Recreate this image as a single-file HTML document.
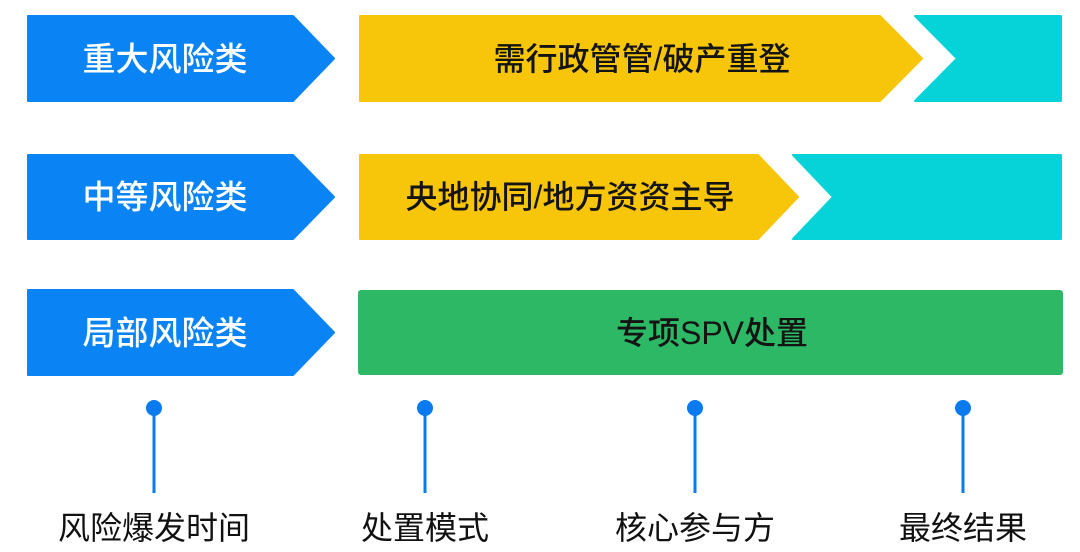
<!DOCTYPE html>
<html>
<head>
<meta charset="utf-8">
<style>
  html, body { margin:0; padding:0; background:#ffffff; }
  body { width:1080px; height:552px; overflow:hidden; }
  svg { display:block; }
  text { font-family: "Liberation Sans", "Noto Sans CJK SC", "WenQuanYi Zen Hei", sans-serif; }
</style>
</head>
<body>
<svg width="1080" height="552" viewBox="0 0 1080 552" xmlns="http://www.w3.org/2000/svg">
  <!-- Row 1 -->
  <polygon points="28,16 293,16 334,58.5 293,101 28,101" fill="#0A84F4" stroke="#0A84F4" stroke-width="2" stroke-linejoin="round"/>
  <polygon points="360,16 880,16 922,58.5 880,101 360,101" fill="#F7C60B" stroke="#F7C60B" stroke-width="2" stroke-linejoin="round"/>
  <polygon points="915,16 1061,16 1061,101 915,101 957,58.5" fill="#06D3D8" stroke="#06D3D8" stroke-width="2" stroke-linejoin="round"/>
  <text x="165" y="59" fill="#ffffff" font-size="33" text-anchor="middle" dominant-baseline="central" font-weight="500">重大风险类</text>
  <text x="642" y="59" fill="#141414" font-size="32" text-anchor="middle" dominant-baseline="central" font-weight="500">需行政管管/破产重登</text>

  <!-- Row 2 -->
  <polygon points="28,155 293,155 334,197 293,239 28,239" fill="#0A84F4" stroke="#0A84F4" stroke-width="2" stroke-linejoin="round"/>
  <polygon points="360,155 758,155 798,197 758,239 360,239" fill="#F7C60B" stroke="#F7C60B" stroke-width="2" stroke-linejoin="round"/>
  <polygon points="793,155 1061,155 1061,239 793,239 833,197" fill="#06D3D8" stroke="#06D3D8" stroke-width="2" stroke-linejoin="round"/>
  <text x="165" y="197" fill="#ffffff" font-size="33" text-anchor="middle" dominant-baseline="central" font-weight="500">中等风险类</text>
  <text x="570" y="197" fill="#141414" font-size="32" text-anchor="middle" dominant-baseline="central" font-weight="500">央地协同/地方资资主导</text>

  <!-- Row 3 -->
  <polygon points="28,290 293,290 334,332.5 293,375 28,375" fill="#0A84F4" stroke="#0A84F4" stroke-width="2" stroke-linejoin="round"/>
  <rect x="358" y="290" width="705" height="85" rx="3" fill="#2DB866"/>
  <text x="165" y="333" fill="#ffffff" font-size="33" text-anchor="middle" dominant-baseline="central" font-weight="500">局部风险类</text>
  <text x="712" y="333" fill="#141414" font-size="32" text-anchor="middle" dominant-baseline="central" font-weight="500">专项SPV处置</text>

  <!-- Bottom markers -->
  <g fill="#0A7BEF" stroke="#0A7BEF">
    <line x1="154" y1="408" x2="154" y2="493" stroke-width="3"/>
    <circle cx="154" cy="408" r="8" stroke="none"/>
    <line x1="425" y1="408" x2="425" y2="493" stroke-width="3"/>
    <circle cx="425" cy="408" r="8" stroke="none"/>
    <line x1="695" y1="408" x2="695" y2="493" stroke-width="3"/>
    <circle cx="695" cy="408" r="8" stroke="none"/>
    <line x1="963" y1="408" x2="963" y2="493" stroke-width="3"/>
    <circle cx="963" cy="408" r="8" stroke="none"/>
  </g>

  <text x="154" y="528" fill="#111111" font-size="32" text-anchor="middle" dominant-baseline="central">风险爆发时间</text>
  <text x="425" y="528" fill="#111111" font-size="32" text-anchor="middle" dominant-baseline="central">处置模式</text>
  <text x="695" y="528" fill="#111111" font-size="32" text-anchor="middle" dominant-baseline="central">核心参与方</text>
  <text x="963" y="528" fill="#111111" font-size="32" text-anchor="middle" dominant-baseline="central">最终结果</text>
</svg>
</body>
</html>
